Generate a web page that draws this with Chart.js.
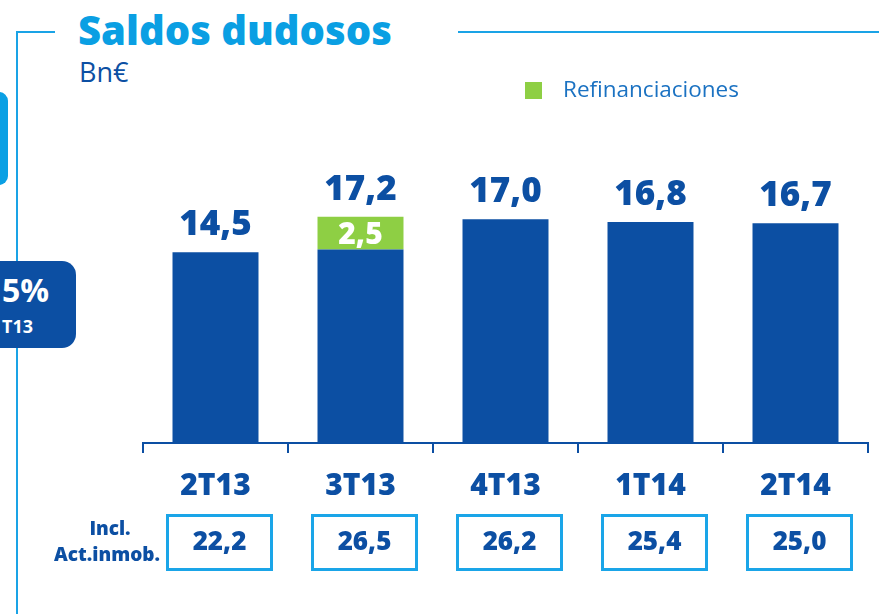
<!DOCTYPE html>
<html>
<head>
<meta charset="utf-8">
<script src="https://cdn.jsdelivr.net/npm/chart.js@4/dist/chart.umd.min.js"></script>
<style>
  html, body { margin:0; padding:0; background:#fff; }
  #wrap { position:relative; width:879px; height:614px; overflow:hidden; font-family:"Open Sans", sans-serif; }
  canvas { position:absolute; left:0; top:0; }
  .abs { position:absolute; }
  .line { position:absolute; background:#1aa3e6; }
</style>
</head>
<body>
<div id="wrap">
  <div class="line" style="left:17px;top:31px;width:38px;height:2px;"></div>
  <div class="line" style="left:16px;top:31px;width:2px;height:583px;"></div>
  <div class="line" style="left:458px;top:31px;width:421px;height:2px;"></div>
  <div class="abs" style="left:-20px;top:92px;width:28px;height:93px;background:#0aa0e4;border-radius:9px;"></div>
  <div class="abs" style="left:-30px;top:261px;width:106px;height:87px;background:#0c4fa3;border-radius:14px;"></div>
  <div class="abs" style="left:-10px;top:270px;width:59px;text-align:right;color:#fff;font-weight:700;font-size:32px;line-height:40px;">5%</div>
  <div class="abs" style="left:-10px;top:314px;width:43px;text-align:right;color:#fff;font-weight:700;font-size:18px;line-height:24px;">T13</div>
  <div class="abs" style="left:78px;top:4px;color:#0a9fe3;font-weight:800;font-size:40px;line-height:52px;white-space:nowrap;">Saldos dudosos</div>
  <div class="abs" style="left:79px;top:54px;color:#0c4fa3;font-weight:400;font-size:27px;line-height:36px;white-space:nowrap;">Bn€</div>
  <canvas id="c" width="879" height="614"></canvas>
</div>
<script>
const categories = ["2T13", "3T13", "4T13", "1T14", "2T14"];
const baseValues = [14.5, 14.7, 17.0, 16.8, 16.7];
const refinValues = [0, 2.5, 0, 0, 0];
const totalLabels = ["14,5", "17,2", "17,0", "16,8", "16,7"];
const refinLabels = ["", "2,5", "", "", ""];
const inclLabels = ["22,2", "26,5", "26,2", "25,4", "25,0"];
const legendLabel = "Refinanciaciones";
const inclTitle = ["Incl.", "Act.inmob."];

const DARK = "#0c4fa3";
const GREEN = "#8ecf44";
const LIGHT = "#1aa5e8";

const overlay = {
  id: "overlay",
  afterDatasetsDraw(chart) {
    const ctx = chart.ctx;
    const m0 = chart.getDatasetMeta(0);
    const m1 = chart.getDatasetMeta(1);
    ctx.save();
    ctx.textAlign = "center";
    ctx.textBaseline = "alphabetic";
    // totals
    ctx.fillStyle = DARK;
    ctx.font = "800 35px 'Open Sans'";
    for (let i = 0; i < categories.length; i++) {
      const top = Math.min(m0.data[i].y, m1.data[i].y);
      ctx.fillText(totalLabels[i], m0.data[i].x, top - 17);
    }
    // refin labels
    ctx.fillStyle = "#ffffff";
    ctx.font = "800 30px 'Open Sans'";
    ctx.textBaseline = "middle";
    for (let i = 0; i < categories.length; i++) {
      if (!refinLabels[i]) continue;
      const el = m1.data[i];
      ctx.fillText(refinLabels[i], el.x, (el.y + el.base) / 2 + 2);
    }
    // incl boxes
    const xs = chart.scales.x;
    ctx.font = "800 26px 'Open Sans'";
    for (let i = 0; i < categories.length; i++) {
      const cx = xs.getPixelForValue(i) + 4;
      ctx.strokeStyle = LIGHT;
      ctx.lineWidth = 3;
      ctx.strokeRect(cx - 52, 515.5, 104, 54);
      ctx.fillStyle = DARK;
      ctx.fillText(inclLabels[i], cx, 543);
    }
    ctx.font = "800 19px 'Open Sans'";
    ctx.fillText(inclTitle[0], 110, 530);
    ctx.fillText(inclTitle[1], 107, 556);
    // legend
    ctx.fillStyle = GREEN;
    ctx.fillRect(525, 82, 17, 17);
    ctx.fillStyle = "#1b72c2";
    ctx.font = "400 22.5px 'Open Sans'";
    ctx.textAlign = "left";
    ctx.fillText(legendLabel, 563, 91);
    ctx.restore();
  }
};

new Chart(document.getElementById("c"), {
  type: "bar",
  data: {
    labels: categories,
    datasets: [
      { label: "Saldos dudosos", data: baseValues, backgroundColor: DARK, borderWidth: 0,
        categoryPercentage: 1, barPercentage: 0.593 },
      { label: legendLabel, data: refinValues, backgroundColor: GREEN, borderWidth: 0,
        categoryPercentage: 1, barPercentage: 0.593 }
    ]
  },
  options: {
    responsive: false,
    animation: false,
    layout: { padding: { left: 143, right: 11, top: 114, bottom: 0 } },
    plugins: { legend: { display: false }, tooltip: { enabled: false }, title: { display: false } },
    scales: {
      x: {
        stacked: true,
        offset: true,
        grid: { offset: true, drawOnChartArea: false, drawTicks: true, tickLength: 10, color: DARK, lineWidth: 2 },
        border: { display: true, color: DARK, width: 2 },
        ticks: { color: DARK, font: { family: "'Open Sans'", weight: "800", size: 30 }, padding: 15, maxRotation: 0 },
        afterFit(s) { s.height = 171; }
      },
      y: {
        stacked: true, display: false, min: 0, max: 25
      }
    }
  },
  plugins: [overlay]
});
</script>
</body>
</html>
